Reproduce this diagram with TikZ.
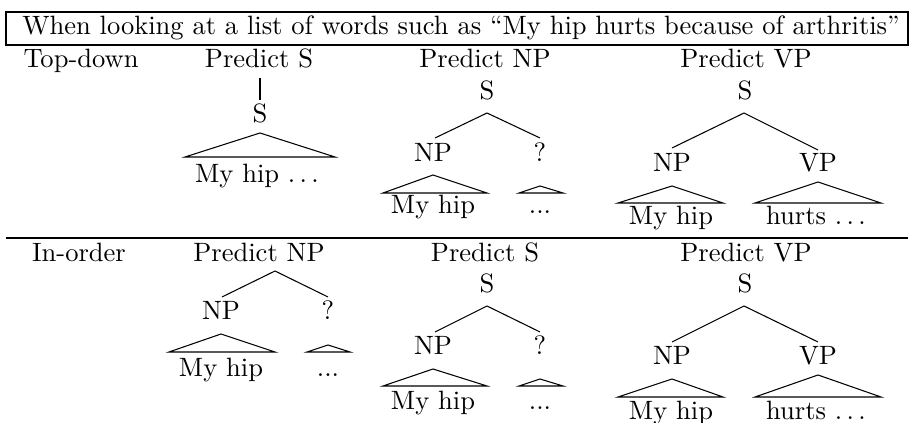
\documentclass[tikz,border=0pt]{standalone}
\begin{document}
\begin{tikzpicture}[x=0.377pt,y=-0.377pt,
  lbl/.style={anchor=base,inner sep=0pt},
  edge/.style={line width=0.4pt},
  roof/.style={line width=0.4pt,line join=miter}]
\useasboundingbox (0,0) rectangle (909,423);
% header and rules
\draw (6,12) rectangle (908,45);
\node[lbl] (head) at (461,35) {When looking at a list of words such as ``My hip hurts because of arthritis''};
\draw (6,238) -- (908,238);

% ---------- Top-down row ----------
\node[lbl] (td) at (81,68) {Top-down};
\node[lbl] (t1) at (259,68) {Predict S};
\node[lbl] (t2) at (485,68) {Predict NP};
\node[lbl] (t3) at (746,68) {Predict VP};

% Predict S
\node[lbl] (a1S) at (260,123) {S};
\coordinate (a1top) at (260,78);
\coordinate (a1bot) at (260,100);
\draw[edge] (a1top) -- (a1bot);
\draw[roof] (260,133) -- (185,157) -- (335,157) -- cycle;
\node[lbl] (a1w) at (257,183) {My hip $\ldots$};

% Predict NP
\node[lbl] (a2S) at (487,100) {S};
\node[lbl] (a2NP) at (433,162) {NP};
\node[lbl] (a2Q) at (540,162) {?};
\coordinate (a2apex) at (487,113);
\coordinate (a2l) at (435,138);
\coordinate (a2r) at (540,138);
\draw[edge] (a2l) -- (a2apex) -- (a2r);
\draw[roof] (433,175) -- (383,193) -- (487,193) -- cycle;
\draw[roof] (540,186) -- (519,193) -- (563,193) -- cycle;
\node[lbl] (a2w) at (433,214) {My hip};
\node[lbl] (a2d) at (540,214) {...};

% Predict VP
\node[lbl] (a3S) at (745,100) {S};
\node[lbl] (a3NP) at (672,172) {NP};
\node[lbl] (a3VP) at (818,172) {VP};
\coordinate (a3apex) at (744,113);
\coordinate (a3l) at (672,148);
\coordinate (a3r) at (818,150);
\draw[edge] (a3l) -- (a3apex) -- (a3r);
\draw[roof] (672,186) -- (618,203) -- (723,203) -- cycle;
\draw[roof] (818,182) -- (755,203) -- (881,203) -- cycle;
\node[lbl] (a3w1) at (671,225) {My hip};
\node[lbl] (a3w2) at (816,225) {hurts $\ldots$};

% ---------- In-order row ----------
\node[lbl] (io) at (79,262) {In-order};
\node[lbl] (b1) at (259,262) {Predict NP};
\node[lbl] (b2) at (485,262) {Predict S};
\node[lbl] (b3) at (746,262) {Predict VP};

% Predict NP
\node[lbl] (b1NP) at (221,320) {NP};
\node[lbl] (b1Q) at (328,320) {?};
\coordinate (b1apex) at (275,271);
\coordinate (b1l) at (222,297);
\coordinate (b1r) at (328,297);
\draw[edge] (b1l) -- (b1apex) -- (b1r);
\draw[roof] (221,334) -- (169,352) -- (275,352) -- cycle;
\draw[roof] (328,345) -- (307,352) -- (350,352) -- cycle;
\node[lbl] (b1w) at (221,377) {My hip};
\node[lbl] (b1d) at (328,377) {...};

% Predict S
\node[lbl] (b2S) at (487,293) {S};
\node[lbl] (b2NP) at (433,355) {NP};
\node[lbl] (b2Q) at (540,355) {?};
\coordinate (b2apex) at (487,306);
\coordinate (b2l) at (435,332);
\coordinate (b2r) at (540,332);
\draw[edge] (b2l) -- (b2apex) -- (b2r);
\draw[roof] (433,369) -- (383,386) -- (487,386) -- cycle;
\draw[roof] (540,379) -- (519,386) -- (563,386) -- cycle;
\node[lbl] (b2w) at (433,410) {My hip};
\node[lbl] (b2d) at (540,410) {...};

% Predict VP
\node[lbl] (b3S) at (745,293) {S};
\node[lbl] (b3NP) at (672,365) {NP};
\node[lbl] (b3VP) at (818,365) {VP};
\coordinate (b3apex) at (744,306);
\coordinate (b3l) at (672,342);
\coordinate (b3r) at (818,342);
\draw[edge] (b3l) -- (b3apex) -- (b3r);
\draw[roof] (672,379) -- (618,397) -- (723,397) -- cycle;
\draw[roof] (818,375) -- (755,397) -- (881,397) -- cycle;
\node[lbl] (b3w1) at (671,420) {My hip};
\node[lbl] (b3w2) at (816,420) {hurts $\ldots$};
\end{tikzpicture}
\end{document}
